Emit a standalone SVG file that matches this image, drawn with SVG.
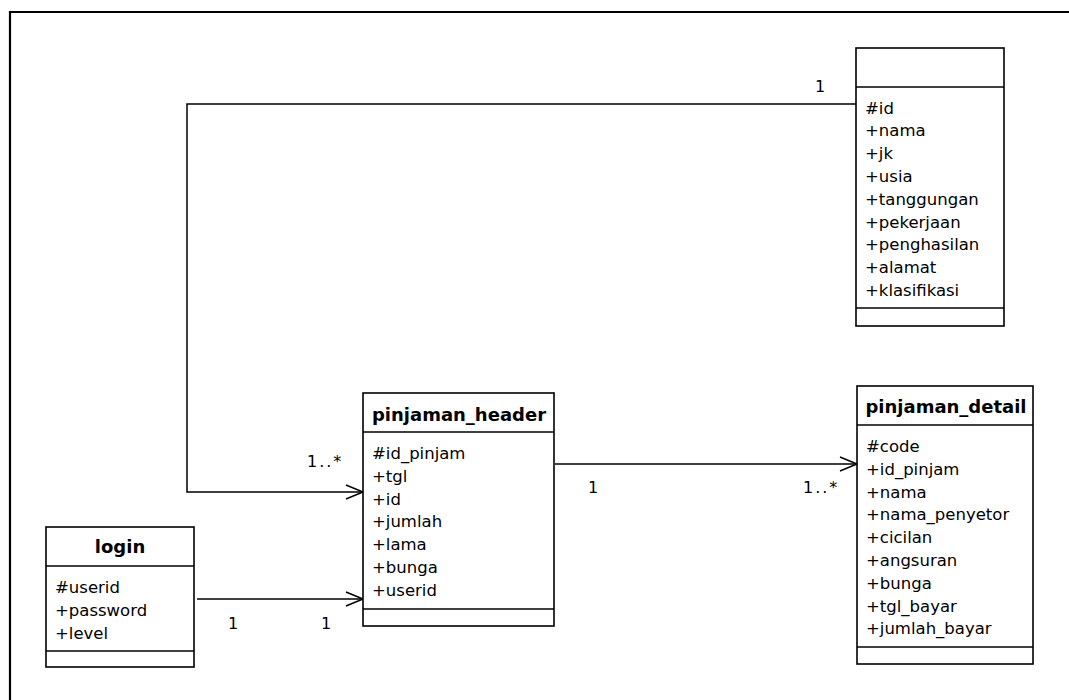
<svg xmlns="http://www.w3.org/2000/svg" width="1069" height="700" viewBox="0 0 1069 700">
<defs>
<style>
.box{fill:#fff;stroke:#000;stroke-width:1.6}
.div{stroke:#000;stroke-width:1.6}
.con{fill:none;stroke:#000;stroke-width:1.5}
.t{font-family:"DejaVu Sans",Verdana,sans-serif;font-weight:bold;font-size:18px;fill:#000;text-anchor:middle}
.a{font-family:"DejaVu Sans",Verdana,sans-serif;font-size:16.5px;fill:#000}
.l{font-family:"DejaVu Sans",Verdana,sans-serif;font-size:16px;fill:#000}
.m{letter-spacing:2px}
</style>
<marker id="open" viewBox="-18 -8 20 16" refX="0" refY="0" markerWidth="20" markerHeight="16" markerUnits="userSpaceOnUse" orient="auto">
<path d="M-17,-7 L0,0 L-17,7" fill="none" stroke="#000" stroke-width="1.5"/>
</marker>
</defs>
<rect width="1069" height="700" fill="#fff"/>
<path d="M10,701 V12 H1070" fill="none" stroke="#000" stroke-width="2.2"/>

<g id="connectors">
<path class="con" d="M856,104 H187 V492 H363" marker-end="url(#open)"/>
<path class="con" d="M555,464 H857" marker-end="url(#open)"/>
<path class="con" d="M197,599 H363" marker-end="url(#open)"/>
<text class="l" x="815" y="92">1</text>
<text class="l m" x="307" y="467">1..*</text>
<text class="l" x="588" y="493">1</text>
<text class="l m" x="803" y="493">1..*</text>
<text class="l" x="228" y="629">1</text>
<text class="l" x="321" y="629">1</text>
</g>

<g id="node_top">
<rect class="box" x="856" y="48" width="148" height="278"/>
<line class="div" x1="856" y1="87" x2="1004" y2="87"/>
<line class="div" x1="856" y1="308" x2="1004" y2="308"/>
<text class="a" x="865" y="113.5">#id</text>
<text class="a" x="865" y="136.3">+nama</text>
<text class="a" x="865" y="159.1">+jk</text>
<text class="a" x="865" y="181.9">+usia</text>
<text class="a" x="865" y="204.7">+tanggungan</text>
<text class="a" x="865" y="227.5">+pekerjaan</text>
<text class="a" x="865" y="250.3">+penghasilan</text>
<text class="a" x="865" y="273.1">+alamat</text>
<text class="a" x="865" y="295.9">+klasifikasi</text>
</g>

<g id="pinjaman_header">
<rect class="box" x="363" y="393" width="191" height="233"/>
<line class="div" x1="363" y1="432" x2="554" y2="432"/>
<line class="div" x1="363" y1="609" x2="554" y2="609"/>
<text class="t" x="459" y="421">pinjaman_header</text>
<text class="a" x="372" y="459">#id_pinjam</text>
<text class="a" x="372" y="481.8">+tgl</text>
<text class="a" x="372" y="504.6">+id</text>
<text class="a" x="372" y="527.4">+jumlah</text>
<text class="a" x="372" y="550.2">+lama</text>
<text class="a" x="372" y="573">+bunga</text>
<text class="a" x="372" y="595.8">+userid</text>
</g>

<g id="pinjaman_detail">
<rect class="box" x="857" y="386" width="176" height="278"/>
<line class="div" x1="857" y1="425" x2="1033" y2="425"/>
<line class="div" x1="857" y1="647" x2="1033" y2="647"/>
<text class="t" x="946" y="413">pinjaman_detail</text>
<text class="a" x="866" y="452">#code</text>
<text class="a" x="866" y="474.8">+id_pinjam</text>
<text class="a" x="866" y="497.6">+nama</text>
<text class="a" x="866" y="520.4">+nama_penyetor</text>
<text class="a" x="866" y="543.2">+cicilan</text>
<text class="a" x="866" y="566">+angsuran</text>
<text class="a" x="866" y="588.8">+bunga</text>
<text class="a" x="866" y="611.6">+tgl_bayar</text>
<text class="a" x="866" y="634.4">+jumlah_bayar</text>
</g>

<g id="login">
<rect class="box" x="46" y="527" width="148" height="140"/>
<line class="div" x1="46" y1="566" x2="194" y2="566"/>
<line class="div" x1="46" y1="651" x2="194" y2="651"/>
<text class="t" x="120" y="553">login</text>
<text class="a" x="55" y="593">#userid</text>
<text class="a" x="55" y="615.8">+password</text>
<text class="a" x="55" y="638.6">+level</text>
</g>
</svg>
